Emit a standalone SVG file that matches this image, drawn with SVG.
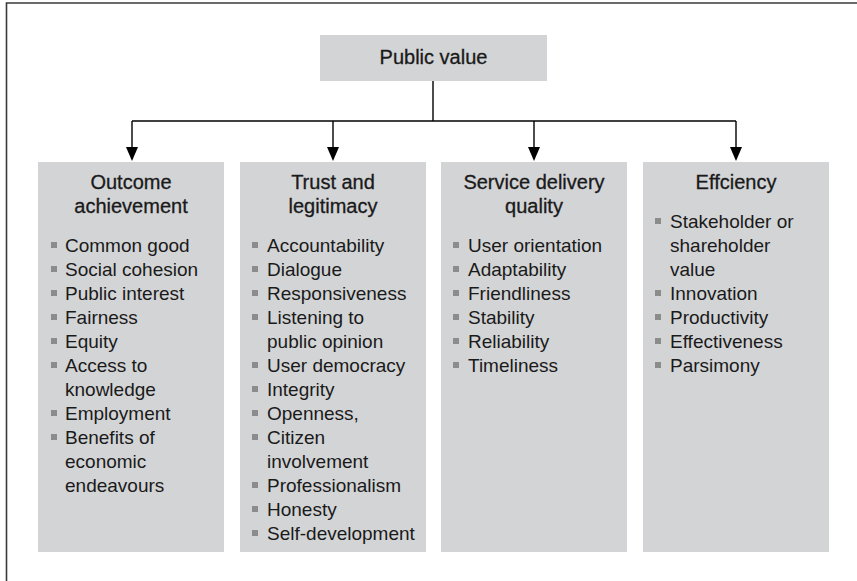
<svg xmlns="http://www.w3.org/2000/svg" width="857" height="581" viewBox="0 0 857 581">
  <style>
    .box { fill: #d3d4d6; }
    .title { font-family: "Liberation Sans", Arial, sans-serif; font-size: 20px; fill: #1a1a1a; text-anchor: middle; stroke: #1a1a1a; stroke-width: 0.3; }
    .item { font-family: "Liberation Sans", Arial, sans-serif; font-size: 19px; fill: #1a1a1a; }
    .bullet { fill: #8c8c8c; }
    .wire { fill: none; stroke: #000; stroke-width: 1.4; }
  </style>
  <defs>
    <marker id="arrow" markerWidth="12" markerHeight="14" refX="6" refY="14" orient="auto-start-reverse" markerUnits="userSpaceOnUse" viewBox="0 0 12 14">
      <path d="M0,0 L12,0 L6,14 Z" fill="#000"/>
    </marker>
  </defs>

  <rect width="857" height="581" fill="#fff"/>
  <!-- frame -->
  <path d="M6.5,581 V3 H857" fill="none" stroke="#3a3a3a" stroke-width="1.6"/>

  <!-- connectors -->
  <g id="connectors">
    <path class="wire" d="M433,81 V121"/>
    <path class="wire" d="M132,121 H736"/>
    <line class="wire" x1="132" y1="121" x2="132" y2="148"/>
    <line class="wire" x1="333" y1="121" x2="333" y2="148"/>
    <line class="wire" x1="534" y1="121" x2="534" y2="148"/>
    <line class="wire" x1="736" y1="121" x2="736" y2="148"/>
    <path d="M126,147 H138 L132,161 Z" fill="#000"/>
    <path d="M327,147 H339 L333,161 Z" fill="#000"/>
    <path d="M528,147 H540 L534,161 Z" fill="#000"/>
    <path d="M730,147 H742 L736,161 Z" fill="#000"/>
  </g>

  <!-- root -->
  <g id="public-value">
    <rect class="box" x="320" y="35" width="227" height="46"/>
    <text class="title" x="433.5" y="64">Public value</text>
  </g>

  <!-- Outcome achievement -->
  <g id="outcome-achievement">
    <rect class="box" x="38" y="162" width="186" height="390"/>
    <text class="title" x="131" y="189">Outcome</text>
    <text class="title" x="131" y="213">achievement</text>
    <g class="bullet">
      <rect x="51" y="242" width="6" height="6"/>
      <rect x="51" y="266" width="6" height="6"/>
      <rect x="51" y="290" width="6" height="6"/>
      <rect x="51" y="314" width="6" height="6"/>
      <rect x="51" y="338" width="6" height="6"/>
      <rect x="51" y="362" width="6" height="6"/>
      <rect x="51" y="410" width="6" height="6"/>
      <rect x="51" y="434" width="6" height="6"/>
    </g>
    <g class="item">
      <text x="65" y="252">Common good</text>
      <text x="65" y="276">Social cohesion</text>
      <text x="65" y="300">Public interest</text>
      <text x="65" y="324">Fairness</text>
      <text x="65" y="348">Equity</text>
      <text x="65" y="372">Access to</text>
      <text x="65" y="396">knowledge</text>
      <text x="65" y="420">Employment</text>
      <text x="65" y="444">Benefits of</text>
      <text x="65" y="468">economic</text>
      <text x="65" y="492">endeavours</text>
    </g>
  </g>

  <!-- Trust and legitimacy -->
  <g id="trust-legitimacy">
    <rect class="box" x="240" y="162" width="186" height="390"/>
    <text class="title" x="333" y="189">Trust and</text>
    <text class="title" x="333" y="213">legitimacy</text>
    <g class="bullet">
      <rect x="252" y="242" width="6" height="6"/>
      <rect x="252" y="266" width="6" height="6"/>
      <rect x="252" y="290" width="6" height="6"/>
      <rect x="252" y="314" width="6" height="6"/>
      <rect x="252" y="362" width="6" height="6"/>
      <rect x="252" y="386" width="6" height="6"/>
      <rect x="252" y="410" width="6" height="6"/>
      <rect x="252" y="434" width="6" height="6"/>
      <rect x="252" y="482" width="6" height="6"/>
      <rect x="252" y="506" width="6" height="6"/>
      <rect x="252" y="530" width="6" height="6"/>
    </g>
    <g class="item">
      <text x="267" y="252">Accountability</text>
      <text x="267" y="276">Dialogue</text>
      <text x="267" y="300">Responsiveness</text>
      <text x="267" y="324">Listening to</text>
      <text x="267" y="348">public opinion</text>
      <text x="267" y="372">User democracy</text>
      <text x="267" y="396">Integrity</text>
      <text x="267" y="420">Openness,</text>
      <text x="267" y="444">Citizen</text>
      <text x="267" y="468">involvement</text>
      <text x="267" y="492">Professionalism</text>
      <text x="267" y="516">Honesty</text>
      <text x="267" y="540">Self-development</text>
    </g>
  </g>

  <!-- Service delivery quality -->
  <g id="service-delivery-quality">
    <rect class="box" x="441" y="162" width="186" height="390"/>
    <text class="title" x="534" y="189">Service delivery</text>
    <text class="title" x="534" y="213">quality</text>
    <g class="bullet">
      <rect x="453" y="242" width="6" height="6"/>
      <rect x="453" y="266" width="6" height="6"/>
      <rect x="453" y="290" width="6" height="6"/>
      <rect x="453" y="314" width="6" height="6"/>
      <rect x="453" y="338" width="6" height="6"/>
      <rect x="453" y="362" width="6" height="6"/>
    </g>
    <g class="item">
      <text x="468" y="252">User orientation</text>
      <text x="468" y="276">Adaptability</text>
      <text x="468" y="300">Friendliness</text>
      <text x="468" y="324">Stability</text>
      <text x="468" y="348">Reliability</text>
      <text x="468" y="372">Timeliness</text>
    </g>
  </g>

  <!-- Efficiency -->
  <g id="efficiency">
    <rect class="box" x="643" y="162" width="186" height="390"/>
    <text class="title" x="736" y="189">Effciency</text>
    <g class="bullet">
      <rect x="655" y="218" width="6" height="6"/>
      <rect x="655" y="290" width="6" height="6"/>
      <rect x="655" y="314" width="6" height="6"/>
      <rect x="655" y="338" width="6" height="6"/>
      <rect x="655" y="362" width="6" height="6"/>
    </g>
    <g class="item">
      <text x="670" y="228">Stakeholder or</text>
      <text x="670" y="252">shareholder</text>
      <text x="670" y="276">value</text>
      <text x="670" y="300">Innovation</text>
      <text x="670" y="324">Productivity</text>
      <text x="670" y="348">Effectiveness</text>
      <text x="670" y="372">Parsimony</text>
    </g>
  </g>
</svg>
